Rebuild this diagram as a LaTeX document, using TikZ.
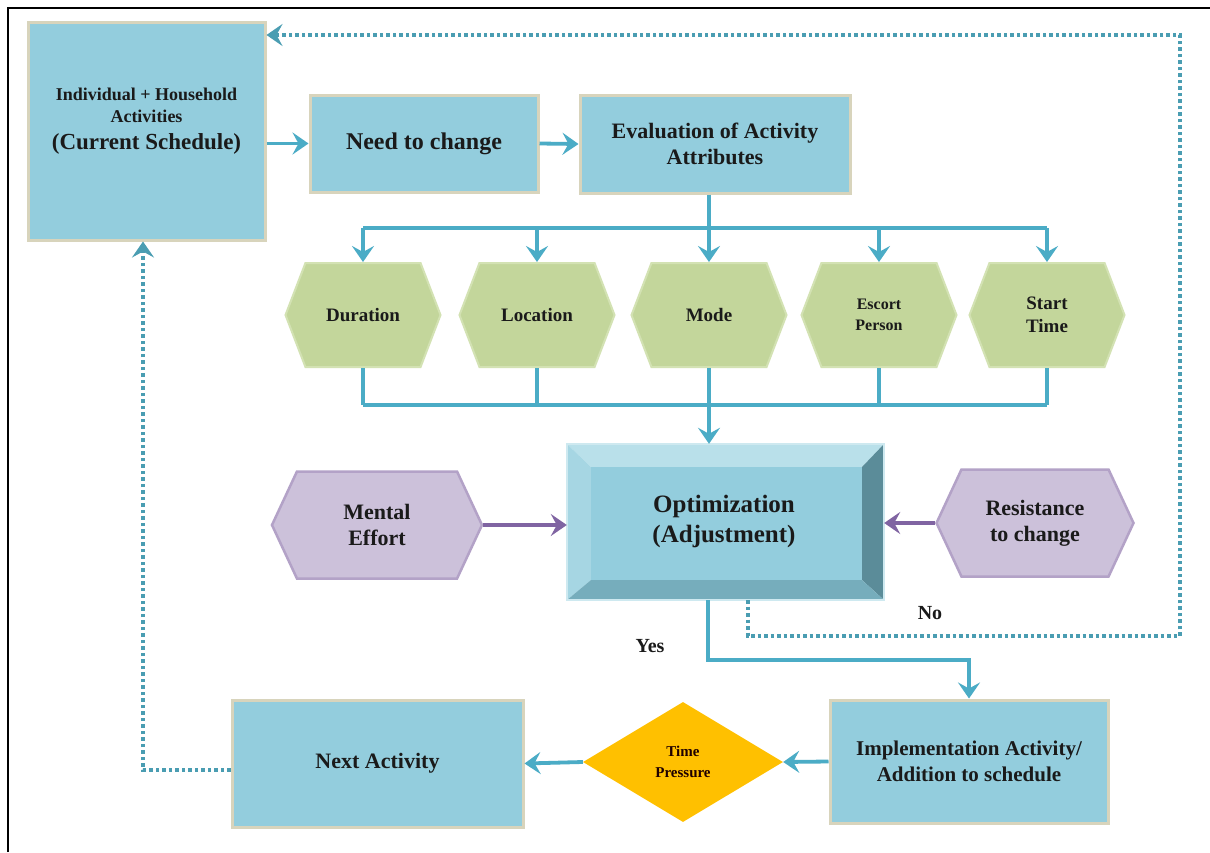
\documentclass[tikz,border=0pt]{standalone}
\usepackage{fontspec}
\setmainfont{Liberation Serif}
\usetikzlibrary{arrows.meta,shapes.geometric,shapes.symbols}
\newcommand{\myfs}[1]{\fontsize{#1}{#1}\selectfont\bfseries}
\definecolor{boxblue}{HTML}{93CDDD}
\definecolor{boxedge}{HTML}{D8D4BC}
\definecolor{arrblue}{HTML}{4BACC6}
\definecolor{dotblue}{HTML}{4A9DB2}
\definecolor{hexgreen}{HTML}{C3D69B}
\definecolor{hexgreenedge}{HTML}{D3E2B3}
\definecolor{hexpurple}{HTML}{CCC1DA}
\definecolor{hexpurpleedge}{HTML}{B3A2C7}
\definecolor{arrpurple}{HTML}{8064A2}
\definecolor{gold}{HTML}{FFC000}
\definecolor{txt}{HTML}{1A1A1A}
\definecolor{bevtop}{HTML}{B9E0EA}
\definecolor{bevleft}{HTML}{A6D6E3}
\definecolor{bevright}{HTML}{5B8C99}
\definecolor{bevbot}{HTML}{76ADBC}
\tikzset{
  fs/.style={font=\myfs{#1}},
  bluebox/.style={rectangle, fill=boxblue, draw=boxedge, line width=3pt, align=center, text=txt, inner sep=0pt},
  greenhex/.style={signal, signal to=east and west, signal from=nowhere, signal pointer angle=138,
     fill=hexgreen, draw=hexgreenedge, line width=2pt, minimum width=155pt, minimum height=104pt,
     inner sep=0pt, align=center, text=txt},
  purplehex/.style={signal, signal to=east and west, signal from=nowhere, signal pointer angle=130,
     fill=hexpurple, draw=hexpurpleedge, line width=2.5pt, minimum height=107pt,
     inner sep=0pt, align=center, text=txt},
  tip/.style={-{Stealth[length=16pt,width=22pt,inset=6pt]}},
  arr/.style={draw=arrblue, line width=3.8pt, tip},
  plainline/.style={draw=arrblue, line width=3.8pt},
  parr/.style={draw=arrpurple, line width=3.8pt, tip},
  dotline/.style={draw=dotblue, line width=3.5pt, dash pattern=on 3.5pt off 3pt},
  dotarr/.style={dotline, tip},
}
\begin{document}
\begin{tikzpicture}[x=1pt,y=-1pt]
\useasboundingbox (0,0) rectangle (1210,852);
\fill[white] (0,0) rectangle (1210,852);
\draw[line width=2pt, black] (8,852) -- (8,8) -- (1210,8);

% top row
\node[bluebox, minimum width=237pt, minimum height=218pt] (ind) at (146.5,131) {};
\node[align=center, text=txt, inner sep=0pt, fs=18] (indlabel) at (146.5,121)
  {Individual + Household\\[4pt]Activities\\[9pt]\myfs{23}(Current Schedule)};
\node[bluebox, minimum width=228pt, minimum height=97pt, fs=24] (need) at (424,143.5) {Need to change};
\node[bluebox, minimum width=270pt, minimum height=98pt, fs=22] (eval) at (715,144) {Evaluation of Activity\\[4pt]Attributes};

% hexagons
\node[greenhex, fs=19] (dur) at (363,315) {Duration};
\node[greenhex, fs=19] (loc) at (537,315) {Location};
\node[greenhex, fs=19] (mode) at (709,315) {Mode};
\node[greenhex, fs=16] (esc) at (879,315) {Escort\\[5pt]Person};
\node[greenhex, fs=19] (start) at (1047,315) {Start\\[4pt]Time};

% optimization bevel box
\node[rectangle, minimum width=317pt, minimum height=156pt, inner sep=0pt] (opt) at (725.5,522) {};
\coordinate (oi1) at (591,467);
\coordinate (oi2) at (862,467);
\coordinate (oi3) at (862,580);
\coordinate (oi4) at (591,580);
\fill[bevtop] (opt.north west) -- (opt.north east) -- (oi2) -- (oi1) -- cycle;
\fill[bevleft] (opt.north west) -- (oi1) -- (oi4) -- (opt.south west) -- cycle;
\fill[bevright] (opt.north east) -- (opt.south east) -- (oi3) -- (oi2) -- cycle;
\fill[bevbot] (opt.south west) -- (oi4) -- (oi3) -- (opt.south east) -- cycle;
\fill[boxblue] (oi1) rectangle (oi3);
\draw[line width=1.5pt, bevtop!70!white] (opt.north west) rectangle (opt.south east);
\node[fs=25, align=center, text=txt, inner sep=0pt] (optlabel) at (724,521) {Optimization\\[5pt](Adjustment)};

\node[purplehex, minimum width=210pt, fs=22] (ment) at (377,525) {Mental\\[4pt]Effort};
\node[purplehex, minimum width=197pt, fs=22] (res) at (1035,523) {Resistance\\[4pt]to change};

% bottom row
\node[bluebox, minimum width=278pt, minimum height=123pt, fs=21] (impl) at (969,761.5) {Implementation Activity/\\[5pt]Addition to schedule};
\node[diamond, fill=gold, minimum width=200pt, minimum height=120pt, inner sep=0pt, align=center,
      text=black!80!red!60!black, fs=15] (tp) at (683,762) {Time\\[6pt]Pressure};
\node[bluebox, minimum width=291pt, minimum height=127pt, fs=22] (next) at (377.5,763.5) {Next Activity};

\node[fs=20, text=txt] (yes) at (650,646) {Yes};
\node[fs=20, text=txt] (no) at (930,613) {No};

% connectors top
\draw[arr] (ind.east |- need.west) -- (need.west);
\draw[arr] (need.east) -- (eval.west);
\coordinate (busA) at (709,228);
\draw[plainline] (mode |- eval.south) -- (busA);
\draw[plainline] (dur |- busA) -- (start |- busA);
\foreach \h in {dur,loc,mode,esc,start}{
  \draw[arr] (\h |- busA) -- (\h.north);
}
\coordinate (busB) at (709,405);
\foreach \h in {dur,loc,mode,esc,start}{
  \draw[plainline] (\h.south) -- (\h |- busB);
}
\draw[plainline] (dur |- busB) -- (start |- busB);
\draw[arr] (busB) -- (mode |- opt.north);

\draw[parr] (ment.east) -- (opt.west |- ment.east);
\draw[parr] (res.west) -- (opt.east |- res.west);

% yes path
\coordinate (y1) at (708,660);
\draw[arr] (y1 |- opt.south) -- (y1) -- (impl.north |- y1) -- (impl.north);

% no path (dotted)
\coordinate (n0) at (748,636);
\coordinate (n1) at (1180,636);
\coordinate (n2) at (1180,35);
\draw[dotarr] (n0 |- opt.south) -- (n0) -- (n1) -- (n2) -- (ind.east |- n2);

% bottom row connectors
\draw[arr] (impl.west) -- (tp.east);
\draw[arr] (tp.west) -- (next.east);
\coordinate (b1) at (143,770);
\draw[dotarr] (next.west |- b1) -- (b1) -- (b1 |- ind.south);
\end{tikzpicture}
\end{document}
